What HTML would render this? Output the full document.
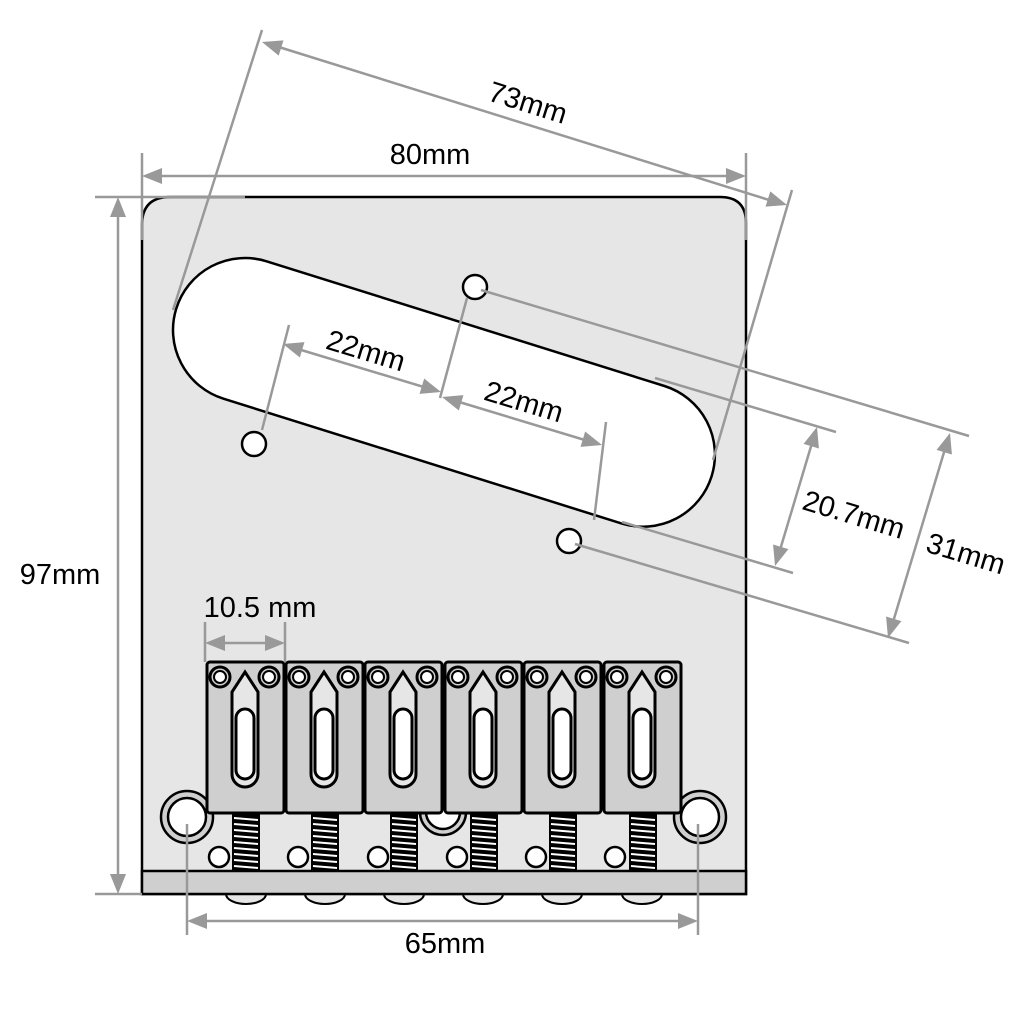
<!DOCTYPE html>
<html><head><meta charset="utf-8"><style>
html,body{margin:0;padding:0;background:#fff}
svg{display:block}
text{font-family:"Liberation Sans",Arial,sans-serif;font-size:29px;fill:#000}
</style></head><body>
<svg width="1020" height="1020" viewBox="0 0 1020 1020" xmlns="http://www.w3.org/2000/svg">
<defs>
<g id="sad">
 <rect x="0" y="0" width="77" height="151" rx="3" fill="#cfcfcf" stroke="#000" stroke-width="3"/>
 <circle cx="13" cy="15" r="10" fill="#cfcfcf" stroke="#000" stroke-width="3"/>
 <circle cx="13" cy="15" r="6" fill="#fff" stroke="#000" stroke-width="2"/>
 <circle cx="62" cy="15" r="10" fill="#cfcfcf" stroke="#000" stroke-width="3"/>
 <circle cx="62" cy="15" r="6" fill="#fff" stroke="#000" stroke-width="2"/>
 <path d="M38 10 L51 30 L51 112 A13 13 0 0 1 25 112 L25 30 Z" fill="#e6e6e6" stroke="#000" stroke-width="3"/>
 <rect x="29" y="47" width="18" height="70" rx="9" fill="#fff" stroke="#000" stroke-width="3"/>
</g>
<g id="spr">
 <rect x="25" y="0" width="28" height="57" fill="#000"/>
 <g stroke="#fff" stroke-width="2">
  <line x1="27" y1="4" x2="51" y2="6"/><line x1="27" y1="10" x2="51" y2="12"/><line x1="27" y1="16" x2="51" y2="18"/>
  <line x1="27" y1="22" x2="51" y2="24"/><line x1="27" y1="28" x2="51" y2="30"/><line x1="27" y1="34" x2="51" y2="36"/>
  <line x1="27" y1="40" x2="51" y2="42"/><line x1="27" y1="46" x2="51" y2="48"/><line x1="27" y1="52" x2="51" y2="54"/>
 </g>
</g>
</defs>

<path d="M170 197 L720 197 Q746 197 746 223 L746 894 L142 894 L142 225 Q142 197 170 197 Z" fill="#e6e6e6" stroke="#000" stroke-width="2.5"/>
<g fill="#e6e6e6" stroke="#000" stroke-width="2">
 <path d="M226 894 A20 10 0 0 0 266 894"/><path d="M305 894 A20 10 0 0 0 345 894"/><path d="M384 894 A20 10 0 0 0 424 894"/>
 <path d="M463 894 A20 10 0 0 0 503 894"/><path d="M542 894 A20 10 0 0 0 582 894"/><path d="M622 894 A20 10 0 0 0 662 894"/>
</g>
<rect x="142" y="871" width="604" height="23" fill="#cfcfcf" stroke="#000" stroke-width="2.5"/>

<g transform="translate(245 330) rotate(17.4)">
 <path d="M0 -72 L417 -72 A72 72 0 0 1 417 72 L0 72 A72 72 0 0 1 0 -72 Z" fill="#fff" stroke="#000" stroke-width="2.5"/>
</g>
<circle cx="475" cy="287" r="12" fill="#fff" stroke="#000" stroke-width="2.5"/>
<circle cx="254" cy="444" r="12" fill="#fff" stroke="#000" stroke-width="2.5"/>
<circle cx="569" cy="541" r="12" fill="#fff" stroke="#000" stroke-width="2.5"/>

<circle cx="187" cy="817" r="26" fill="#cfcfcf" stroke="#000" stroke-width="2.5"/>
<circle cx="187" cy="817" r="19" fill="#fff" stroke="#000" stroke-width="2.5"/>
<circle cx="700" cy="817" r="26" fill="#cfcfcf" stroke="#000" stroke-width="2.5"/>
<circle cx="700" cy="817" r="19" fill="#fff" stroke="#000" stroke-width="2.5"/>
<circle cx="443" cy="812" r="23" fill="#cfcfcf" stroke="#000" stroke-width="2.5"/>
<circle cx="443" cy="812" r="17" fill="#fff" stroke="#000" stroke-width="2.5"/>

<g fill="#fff" stroke="#000" stroke-width="2.5">
 <circle cx="219" cy="857" r="10"/><circle cx="298" cy="857" r="10"/><circle cx="378" cy="857" r="10"/>
 <circle cx="457" cy="857" r="10"/><circle cx="536" cy="857" r="10"/><circle cx="615" cy="857" r="10"/>
</g>
<use href="#spr" x="207" y="814"/><use href="#spr" x="286" y="814"/><use href="#spr" x="365" y="814"/>
<use href="#spr" x="445" y="814"/><use href="#spr" x="524" y="814"/><use href="#spr" x="604" y="814"/>
<use href="#sad" x="207" y="662"/><use href="#sad" x="286" y="662"/><use href="#sad" x="365" y="662"/>
<use href="#sad" x="445" y="662"/><use href="#sad" x="524" y="662"/><use href="#sad" x="604" y="662"/>

<g stroke="#999" stroke-width="2.5" fill="none">
 <line x1="142" y1="153" x2="142" y2="240"/><line x1="746" y1="153" x2="746" y2="240"/>
 <line x1="148" y1="176" x2="740" y2="176"/>
 <line x1="95" y1="197" x2="245" y2="197"/><line x1="95" y1="894" x2="142" y2="894"/>
 <line x1="118" y1="203" x2="118" y2="888"/>
 <line x1="262" y1="30" x2="173" y2="310"/><line x1="792" y1="190" x2="713" y2="460"/>
 <line x1="266" y1="43" x2="782" y2="204"/>
 <line x1="289" y1="325" x2="262" y2="430"/><line x1="467" y1="298" x2="440" y2="398"/><line x1="606" y1="422" x2="594" y2="520"/>
 <line x1="288" y1="346" x2="437" y2="391"/><line x1="446" y1="398" x2="598" y2="444"/>
 <line x1="655" y1="378" x2="836" y2="432"/><line x1="622" y1="522" x2="793" y2="573"/>
 <line x1="481" y1="290" x2="969" y2="436"/><line x1="575" y1="544" x2="909" y2="643"/>
 <line x1="815" y1="433" x2="777" y2="560"/><line x1="948" y1="439" x2="890" y2="632"/>
 <line x1="205" y1="622" x2="205" y2="662"/><line x1="285" y1="622" x2="285" y2="662"/>
 <line x1="210" y1="643" x2="280" y2="643"/>
 <line x1="187" y1="824" x2="187" y2="935"/><line x1="698" y1="824" x2="698" y2="935"/>
 <line x1="192" y1="921" x2="693" y2="921"/>
</g>
<g fill="#999">
 <polygon points="142,176 162,168 162,184"/><polygon points="746,176 726,168 726,184"/>
 <polygon points="118,197 110,217 126,217"/><polygon points="118,894 110,874 126,874"/>
 <polygon points="205,643 225,635 225,651"/><polygon points="285,643 265,635 265,651"/>
 <polygon points="187,921 207,913 207,929"/><polygon points="698,921 678,913 678,929"/>
 <g transform="translate(262 42) rotate(17.4)"><polygon points="0,0 20,-8 20,8"/></g>
 <g transform="translate(787 205) rotate(197.4)"><polygon points="0,0 20,-8 20,8"/></g>
 <g transform="translate(283 344) rotate(16.8)"><polygon points="0,0 20,-8 20,8"/></g>
 <g transform="translate(441 392) rotate(196.8)"><polygon points="0,0 20,-8 20,8"/></g>
 <g transform="translate(442 397) rotate(16.8)"><polygon points="0,0 20,-8 20,8"/></g>
 <g transform="translate(602 445) rotate(196.8)"><polygon points="0,0 20,-8 20,8"/></g>
 <g transform="translate(817 427) rotate(106.7)"><polygon points="0,0 20,-8 20,8"/></g>
 <g transform="translate(775 566) rotate(286.7)"><polygon points="0,0 20,-8 20,8"/></g>
 <g transform="translate(950 433) rotate(106.7)"><polygon points="0,0 20,-8 20,8"/></g>
 <g transform="translate(888 638) rotate(286.7)"><polygon points="0,0 20,-8 20,8"/></g>
</g>

<text x="430" y="164" text-anchor="middle">80mm</text>
<text x="60" y="584" text-anchor="middle">97mm</text>
<text x="260" y="617" text-anchor="middle">10.5 mm</text>
<text x="445" y="953" text-anchor="middle">65mm</text>
<text transform="translate(525 112) rotate(17.4)" text-anchor="middle">73mm</text>
<text transform="translate(363 360) rotate(16.8)" text-anchor="middle">22mm</text>
<text transform="translate(521 411) rotate(16.8)" text-anchor="middle">22mm</text>
<text transform="translate(851 524) rotate(16.8)" text-anchor="middle">20.7mm</text>
<text transform="translate(963 563) rotate(16.8)" text-anchor="middle">31mm</text>
</svg>
</body></html>
